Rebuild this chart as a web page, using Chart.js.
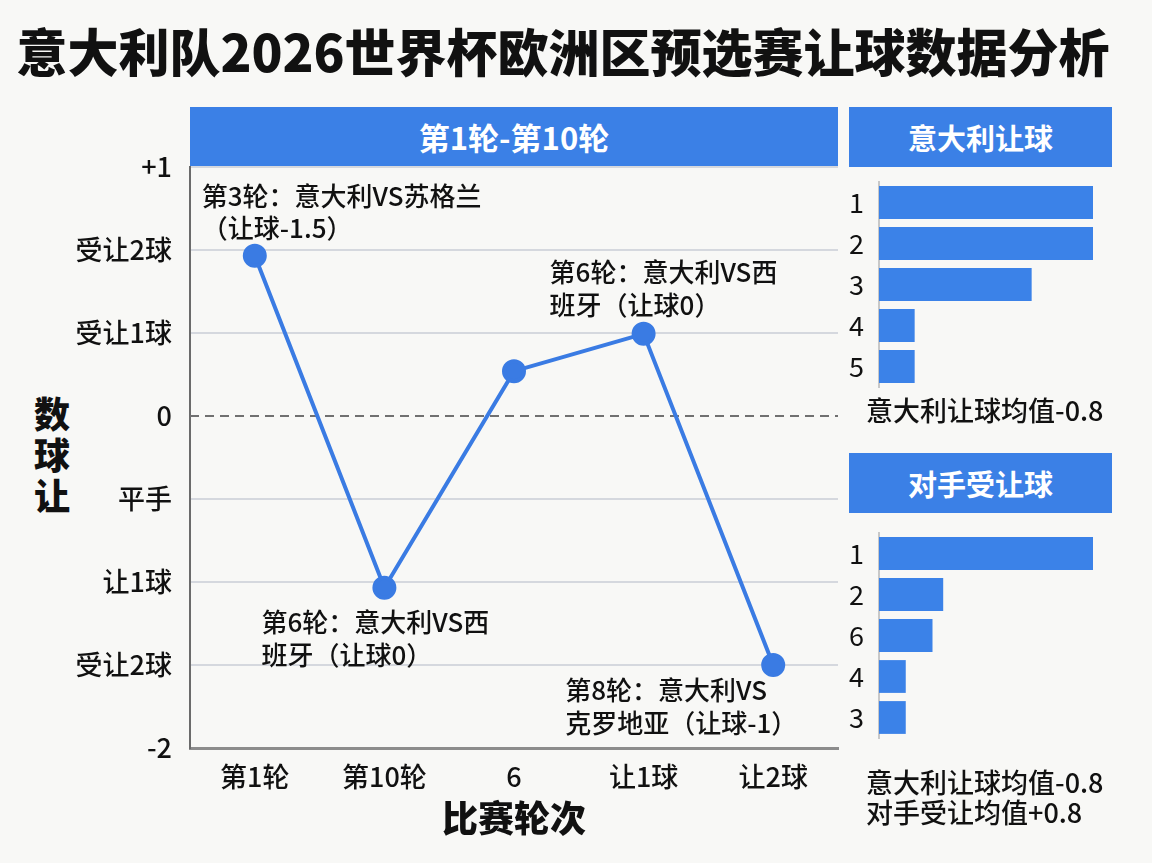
<!DOCTYPE html>
<html>
<head>
<meta charset="utf-8">
<script src="https://cdn.jsdelivr.net/npm/chart.js@4/dist/chart.umd.min.js"></script>
<style>
  body { margin: 0; background: #f8f8f6; width: 1152px; height: 863px; position: relative; overflow: hidden;
         font-family: "Noto Sans CJK SC", sans-serif; color: #111; }
  .abs { position: absolute; }
  .title { left: 0; width: 1126px; top: 18px; line-height: 64px; text-align: center; font-size: 51px; font-weight: 900; }
  .hdr { background: #3b80e6; color: #fff; font-weight: 700; text-align: center; height: 60px; line-height: 60px; }
  .ytitle { left: 32px; top: 392px; width: 40px; font-size: 36px; font-weight: 900; line-height: 41px; text-align: center; }
  .note { font-size: 27px; line-height: 30px; left: 866px; white-space: nowrap; font-weight: 500; }
</style>
</head>
<body>
<div class="abs title">意大利队2026世界杯欧洲区预选赛让球数据分析</div>

<div class="abs hdr" style="left:190px;top:107px;width:648px;font-size:31px;">第1轮-第10轮</div>
<div class="abs hdr" style="left:849px;top:107px;width:263px;font-size:29px;">意大利让球</div>
<div class="abs hdr" style="left:849px;top:453px;width:263px;font-size:29px;">对手受让球</div>

<div class="abs ytitle">数<br>球<br>让</div>

<canvas id="mainChart" class="abs" style="left:0;top:140px" width="852" height="720"></canvas>
<canvas id="itaChart" class="abs" style="left:840px;top:172px" width="272" height="225"></canvas>
<canvas id="oppChart" class="abs" style="left:840px;top:523px" width="272" height="225"></canvas>

<div class="abs note" style="top:395px">意大利让球均值-0.8</div>
<div class="abs note" style="top:767px">意大利让球均值-0.8<br>对手受让均值+0.8</div>

<script>
// 主折线图数据
const rounds = ['第1轮', '第10轮', '6', '让1球', '让2球'];
const handicap = [1.93, -2.07, 0.54, 0.99, -3.0];
// y 轴刻度 -4 .. 3
const yTickLabels = ['-2', '受让2球', '让1球', '平手', '0', '受让1球', '受让2球', '+1'];

const notes = [
  { index: 0, lines: ['第3轮：意大利VS苏格兰', '（让球-1.5）'] },
  { index: 3, lines: ['第6轮：意大利VS西', '班牙（让球0）'] },
  { index: 1, lines: ['第6轮：意大利VS西', '班牙（让球0）'] },
  { index: 4, lines: ['第8轮：意大利VS', '克罗地亚（让球-1）'] }
];

// 右侧条形图
const itaLabels = ['1', '2', '3', '4', '5'];
const itaValues = [1.5, 1.5, 1.07, 0.25, 0.25];
const oppLabels = ['1', '2', '6', '4', '3'];
const oppValues = [2, 0.6, 0.5, 0.25, 0.25];

const blue = '#3a7be3';
Chart.defaults.font.family = '"Noto Sans CJK SC", sans-serif';
Chart.defaults.color = '#111';

// 注释相对数据点的偏移
const noteOffsets = [
  { dx: -53, dy: [-60, -28] },
  { dx: -94, dy: [-62, -29] },
  { dx: -123, dy: [34, 67] },
  { dx: -208, dy: [25, 58] }
];

const noPad = (a) => { a.paddingTop = 0; a.paddingBottom = 0; a.paddingLeft = 0; a.paddingRight = 0; };

const notePlugin = {
  id: 'notes',
  beforeDatasetsDraw(chart) {
    const { ctx, chartArea } = chart;
    const y0 = chart.scales.y.getPixelForValue(0);
    ctx.save();
    ctx.strokeStyle = '#707070';
    ctx.lineWidth = 2;
    ctx.setLineDash([9, 6]);
    ctx.beginPath();
    ctx.moveTo(chartArea.left, y0);
    ctx.lineTo(chartArea.right, y0);
    ctx.stroke();
    ctx.restore();
  },
  afterDatasetsDraw(chart) {
    const { ctx } = chart;
    const meta = chart.getDatasetMeta(0);
    ctx.save();
    ctx.font = '500 26px "Noto Sans CJK SC"';
    ctx.fillStyle = '#111';
    ctx.textBaseline = 'middle';
    notes.forEach((n, k) => {
      const pt = meta.data[n.index];
      const off = noteOffsets[k];
      n.lines.forEach((line, j) => ctx.fillText(line, pt.x + off.dx, pt.y + off.dy[j]));
    });
    ctx.restore();
  }
};

new Chart(document.getElementById('mainChart'), {
  type: 'line',
  data: {
    labels: rounds,
    datasets: [{
      data: handicap,
      borderColor: blue,
      backgroundColor: blue,
      borderWidth: 4,
      pointRadius: 10,
      pointHoverRadius: 10,
      tension: 0
    }]
  },
  options: {
    responsive: false,
    animation: false,
    devicePixelRatio: 1,
    layout: { padding: { top: 27, right: 2, left: 0, bottom: 0 } },
    plugins: { legend: { display: false }, tooltip: { enabled: false } },
    scales: {
      x: {
        offset: true,
        grid: { display: false, drawTicks: false },
        border: { color: '#8c8c8c', width: 3 },
        ticks: { padding: 13, font: { size: 27, weight: '500' }, color: '#111' },
        title: { display: true, text: '比赛轮次', font: { size: 36, weight: '900' }, color: '#111', padding: { bottom: 20 } },
        afterFit: (a) => { noPad(a); a.height = 112; }
      },
      y: {
        min: -4,
        max: 3,
        ticks: {
          stepSize: 1,
          padding: 18,
          font: { size: 27, weight: '500' },
          color: '#111',
          callback: (v) => yTickLabels[v + 4]
        },
        grid: {
          drawTicks: false,
          lineWidth: 2,
          color: (c) => (c.tick && c.tick.value === 0 ? 'rgba(0,0,0,0)' : '#d5d8de')
        },
        border: { color: '#6b6b6b', width: 2 },
        afterFit: (a) => { noPad(a); a.width = 190; }
      }
    }
  },
  plugins: [notePlugin]
});

function sideBar(id, labels, values, maxV) {
  new Chart(document.getElementById(id), {
    type: 'bar',
    data: {
      labels: labels,
      datasets: [{ data: values, backgroundColor: '#3b82e8', barPercentage: 0.8, categoryPercentage: 1.0 }]
    },
    options: {
      indexAxis: 'y',
      responsive: false,
      animation: false,
      devicePixelRatio: 1,
      layout: { padding: { top: 10, bottom: 10, right: 19, left: 0 } },
      plugins: { legend: { display: false }, tooltip: { enabled: false } },
      scales: {
        x: { display: false, min: 0, max: maxV },
        y: {
          grid: { display: false, drawTicks: false },
          border: { color: '#c8c8c8', width: 2 },
          ticks: { padding: 15, font: { size: 27 }, color: '#111' },
          afterFit: (a) => { noPad(a); a.width = 39; }
        }
      }
    }
  });
}

sideBar('itaChart', itaLabels, itaValues, 1.5);
sideBar('oppChart', oppLabels, oppValues, 2);
</script>
</body>
</html>
